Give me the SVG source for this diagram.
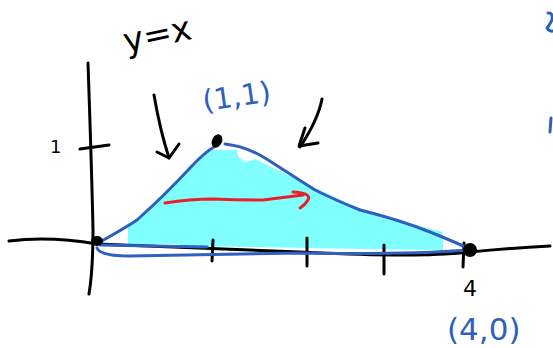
<svg xmlns="http://www.w3.org/2000/svg" width="553" height="348" viewBox="0 0 553 348">
<style>
.ink{fill:none;stroke:#000;stroke-width:3;stroke-linecap:round;stroke-linejoin:round}
.blue{fill:none;stroke:#3060bf;stroke-width:3;stroke-linecap:round;stroke-linejoin:round}
.red{fill:none;stroke:#e8202a;stroke-width:3;stroke-linecap:round;stroke-linejoin:round}
.hand{font-family:"DejaVu Sans","Liberation Sans",sans-serif}
.bt{fill:#3060bf}
.kt{fill:#000}
</style>
<rect width="553" height="348" fill="#fff"/>
<g id="region">
<path d="M128,226 L140,218 L187,172 L205,155 L212,150 L237,150 L238,156 L245,162 L256,159 L265,164 L290,176 L320,190 L345,202 L360,208 L390,217 L420,226 L443,232 L443,250 L360,249 L307,248 L250,247 L180,246 L180,244 L128,244 Z" fill="#80ffff"/>
</g>
<g id="axes">
<path class="ink" d="M88,63 Q92,180 93,230 Q93,270 89,294"/>
<path class="ink" d="M9,241 Q50,236 97,244 L300,252 Q420,258 470,252 Q510,248 550,246"/>
<path class="ink" d="M80,149 L109,145"/>
<path class="ink" d="M213,240 L212,261"/>
<path class="ink" d="M307,238 L307,266"/>
<path class="ink" d="M384,245 L384,274"/>
<path class="ink" d="M464,243 L463,267"/>
</g>
<g id="triangle">
<path class="blue" d="M100,242 Q125,228 137,220 Q165,195 190,168 Q205,152 214,147"/>
<path class="blue" d="M225,144 Q245,146 265,158 Q290,174 315,190 Q335,200 360,210 Q400,220 430,232 Q455,242 472,250"/>
<path class="blue" d="M100,245 L207,247"/>
<path class="blue" d="M97,248 Q100,256 130,256 L300,253 Q400,255 470,250"/>
</g>
<g id="points">
<ellipse cx="97" cy="241" rx="6" ry="5"/>
<ellipse cx="217" cy="141" rx="5" ry="7" transform="rotate(25 217 141)"/>
<circle cx="470" cy="250" r="7"/>
</g>
<g id="connectors">
<path class="ink" d="M154,95 Q160,130 169,158"/>
<path class="ink" d="M157,152 L169,158 L179,144"/>
<path class="ink" d="M322,99 Q318,120 300,147"/>
<path class="ink" d="M305,128 L299,146 L318,143"/>
<path class="red" d="M165,203 Q190,199 213,199 Q240,200 263,200 L303,195"/>
<path class="red" d="M293,192 Q312,193 308,200 Q305,205 300,208"/>
</g>
<g id="labels">
<text class="hand kt" x="126" y="53" font-size="34" transform="rotate(-12 126 53)">y=x</text>
<text class="hand kt" x="50" y="153" font-size="18">1</text>
<text class="hand bt" x="204" y="111" font-size="29" transform="rotate(-8 204 111)">(1,1)</text>
<text class="hand kt" x="470" y="296" font-size="22" text-anchor="middle">4</text>
<text class="hand bt" x="447" y="340" font-size="31">(4,0)</text>
</g>
<g id="edge-fragments">
<path class="blue" d="M548,13 Q553,12 552,20 Q549,26 547,28 Q550,32 553,31"/>
<path class="blue" d="M551,118 L550,132"/>
</g>
</svg>
